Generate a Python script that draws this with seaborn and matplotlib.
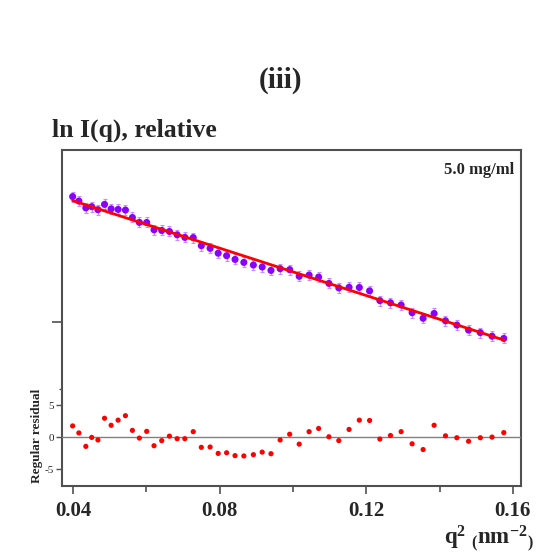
import numpy as np
import pandas as pd
import matplotlib
matplotlib.use("Agg")
import matplotlib.pyplot as plt
import seaborn as sns

# ==========================================================
# DATA
# ==========================================================

q2 = [0.0399, 0.0416, 0.0435, 0.0451, 0.0468, 0.0486, 0.0504, 0.0523, 0.0543, 0.0562,
      0.0581, 0.0601, 0.0621, 0.0642, 0.0663, 0.0684, 0.0705, 0.0728, 0.0750, 0.0774,
      0.0796, 0.0819, 0.0842, 0.0866, 0.0892, 0.0916, 0.0940, 0.0965, 0.0991, 0.1017,
      0.1044, 0.1070, 0.1098, 0.1125, 0.1153, 0.1181, 0.1209, 0.1237, 0.1266, 0.1295,
      0.1325, 0.1355, 0.1385, 0.1416, 0.1447, 0.1479, 0.1511, 0.1543, 0.1575]

ln_i = [4.3135, 4.3023, 4.2853, 4.2883, 4.2808, 4.2940, 4.2828, 4.2815, 4.2798, 4.2613,
        4.2490, 4.2488, 4.2305, 4.2288, 4.2263, 4.2180, 4.2115, 4.2110, 4.1908, 4.1841,
        4.1720, 4.1658, 4.1565, 4.1490, 4.1425, 4.1375, 4.1290, 4.1333, 4.1308, 4.1143,
        4.1173, 4.1123, 4.0965, 4.0853, 4.0868, 4.0863, 4.0778, 4.0534, 4.0480, 4.0425,
        4.0233, 4.0093, 4.0213, 4.0030, 3.9923, 3.9798, 3.9735, 3.9645, 3.9589]

ln_i_err = 0.0125

residual = [1.8, 0.7, -1.4, 0.0, -0.4, 3.0, 1.9, 2.7, 3.4, 1.1,
            -0.1, 0.95, -1.3, -0.5, 0.2, -0.2, -0.2, 0.9, -1.55, -1.5,
            -2.5, -2.4, -2.85, -2.9, -2.7, -2.3, -2.55, -0.4, 0.5, -1.05,
            0.9, 1.4, 0.1, -0.5, 1.25, 2.7, 2.65, -0.25, 0.3, 0.9,
            -1.0, -1.9, 1.9, 0.25, -0.05, -0.6, -0.05, 0.05, 0.75]

# Guinier fit: ln I = ln I0 - (Rg^2/3) q^2
fit_ln_i0 = 4.4218
fit_slope = -2.964

x_ticks = [0.04, 0.08, 0.12, 0.16]
x_tick_labels = ["0.04", "0.08", "0.12", "0.16"]
res_ticks = [5, 0, -5]
res_tick_labels = ["5", "0", "-5"]

# ==========================================================
# STYLE
# ==========================================================

sns.set_style("white")
plt.rcParams['font.family'] = ['Liberation Serif', 'DejaVu Serif']
plt.rcParams['mathtext.fontset'] = 'custom'
plt.rcParams['mathtext.rm'] = 'Liberation Serif:bold'
plt.rcParams['mathtext.it'] = 'Liberation Serif:bold'
plt.rcParams['mathtext.bf'] = 'Liberation Serif:bold'

df = pd.DataFrame({"q2": q2, "ln_i": ln_i, "residual": residual})
df["fit"] = fit_ln_i0 + fit_slope * df["q2"]

fig = plt.figure(figsize=(5.5, 5.56), dpi=100)

left, width = 62 / 550, 459 / 550
ax = fig.add_axes([left, 70 / 556, width, 336 / 556])
ax_res = fig.add_axes([left, 70 / 556, width, 101 / 556], sharex=ax)
ax_res.patch.set_alpha(0)

frame_color = "#505050"

# ---------------- main Guinier plot ----------------
ax.errorbar(df["q2"], df["ln_i"], yerr=ln_i_err, fmt="none",
            ecolor="#c78cff", elinewidth=1.0, capsize=1.5, capthick=0.8, zorder=2)
sns.scatterplot(data=df, x="q2", y="ln_i", ax=ax, color="#8a00ff",
                s=26, edgecolor="none", linewidth=0, zorder=3)
sns.lineplot(data=df, x="q2", y="fit", ax=ax, color="#ff0000",
             linewidth=2.0, zorder=4)

ax.set_xlim(0.037, 0.1622)
ax.set_ylim(3.59, 4.43)
ax.set_xlabel("")
ax.set_ylabel("")
ax.set_xticks(x_ticks)
ax.set_xticklabels(x_tick_labels, fontsize=15, fontweight="bold")
ax.set_xticks([0.06, 0.10, 0.14], minor=True)
ax.set_yticks([4.0])
ax.set_yticklabels([""])
ax.tick_params(axis="x", which="major", direction="out", length=6, width=1.2,
               color=frame_color, pad=5, bottom=True)
ax.tick_params(axis="x", which="minor", direction="out", length=4, width=1.2,
               color=frame_color, bottom=True)
ax.tick_params(axis="y", direction="out", length=7, width=1.2,
               color=frame_color, left=True)
for sp in ax.spines.values():
    sp.set_visible(True)
    sp.set_color(frame_color)
    sp.set_linewidth(1.5)

ax.text(0.985, 0.965, "5.0 mg/ml", transform=ax.transAxes, ha="right", va="top",
        fontsize=12, fontweight="bold")

# ---------------- residual plot ----------------
ax_res.axhline(0, color="#808080", linewidth=1.0, zorder=1)
sns.scatterplot(data=df, x="q2", y="residual", ax=ax_res, color="#ff0000",
                s=14, edgecolor="none", linewidth=0, zorder=3)
ax_res.set_ylim(-7.6, 8.2)
ax_res.set_yticks(res_ticks)
ax_res.set_yticklabels(res_tick_labels, fontsize=8)
ax_res.set_yticks([7.5], minor=True)
ax_res.tick_params(axis="y", which="major", direction="out", length=4, width=1,
                   color=frame_color, pad=2, left=True)
ax_res.tick_params(axis="y", which="minor", direction="out", length=2, width=1,
                   color=frame_color, left=True)
ax_res.tick_params(axis="x", bottom=False, labelbottom=False)
ax_res.set_xlabel("")
ax_res.set_ylabel("Regular residual", fontsize=9.5, fontweight="bold", labelpad=1)
for sp in ax_res.spines.values():
    sp.set_visible(False)

# ---------------- titles ----------------
fig.text(0.51, 0.856, "(iii)", ha="center", va="center", fontsize=21, fontweight="bold")
fig.text(52 / 550, 0.766, "ln I(q), relative", ha="left", va="center",
         fontsize=18.5, fontweight="bold")
fig.text(0.97, 0.03, r"q$^{2}$ $_{(}$nm$^{-2}$$_{)}$", ha="right", va="center",
         fontsize=16.5, fontweight="bold")

fig.savefig("out.png", dpi=100)
